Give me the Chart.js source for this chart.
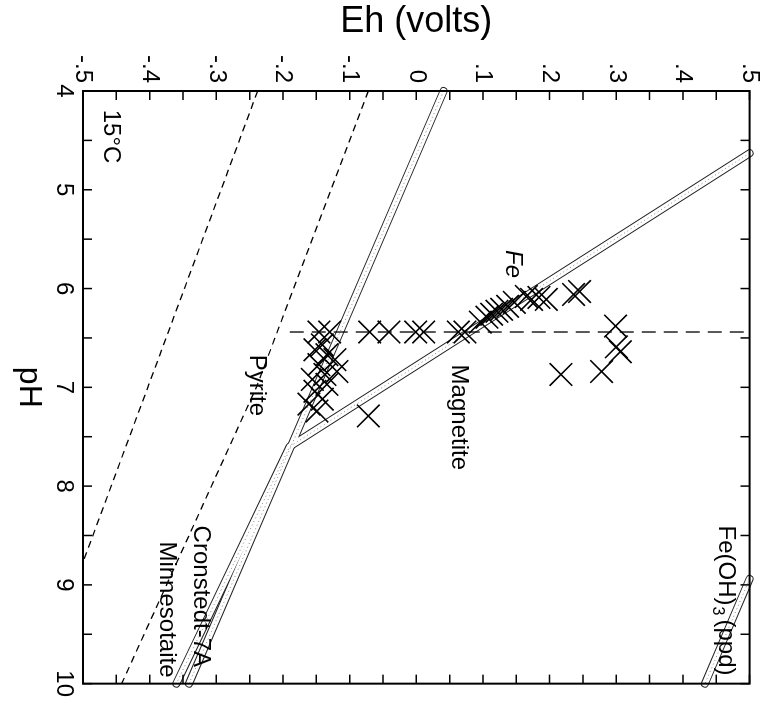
<!DOCTYPE html>
<html>
<head>
<meta charset="utf-8">
<script src="https://cdn.jsdelivr.net/npm/chart.js@4/dist/chart.umd.min.js"></script>
<style>
  body { margin: 0; background: #fff; overflow: hidden; }
  /* the plot is drawn upright, then turned a quarter clockwise like the printout */
  #wrap { position: absolute; left: 0; top: 0; width: 702px; height: 772px;
          transform-origin: 0 0; transform: translate(772px, 0) rotate(90deg); }
</style>
</head>
<body>
<div id="wrap"><canvas id="ehph" width="702" height="772"></canvas></div>
<script>
var phTicks = [4, 5, 6, 7, 8, 9, 10];
var ehTicks = [-0.5, -0.4, -0.3, -0.2, -0.1, 0, 0.1, 0.2, 0.3, 0.4, 0.5];
var ehLabels = ['-.5', '-.4', '-.3', '-.2', '-.1', '0', '.1', '.2', '.3', '.4', '.5'];

// dashed sulfur lines
var lowDashPh = [4, 8.77];
var lowDashEh = [-0.238, -0.5];
var pyritePh = [4, 7, 10];
var pyriteEh = [-0.072, -0.24, -0.442];
var vertDashPh = [6.44, 6.44];
var vertDashEh = [-0.19, 0.5];

// iron mineral boundaries (double lines)
var cronstedtPh = [4, 10];
var cronstedtEh = [0.041, -0.341];
var magnetitePh = [4.63, 7.6, 10];
var magnetiteEh = [0.5, -0.19, -0.36];
var fe3Ph = [8.94, 10];
var fe3Eh = [0.5, 0.433];

// well samples
var samplePh = [6.44, 6.44, 6.44, 6.44, 6.44, 6.44, 6.44, 6.44,
  6.57, 6.62, 6.67, 6.72, 6.77, 6.84, 6.87, 6.92, 6.97, 7.04, 7.12, 7.17, 7.24,
  7.29,
  6.34, 6.29, 6.26, 6.23, 6.21, 6.18, 6.14, 6.08, 6.11, 6.09, 6.11,
  6.06, 6.03, 6.38, 6.59, 6.64, 6.87, 6.84];
var sampleEh = [-0.146, -0.130, -0.070, -0.041, -0.001, 0.011, 0.063, 0.073,
  -0.141, -0.152, -0.134, -0.122, -0.146, -0.119, -0.137, -0.156, -0.134, -0.152, -0.141, -0.161, -0.149,
  -0.072,
  0.096, 0.106, 0.113, 0.121, 0.128, 0.137, 0.147, 0.165, 0.173, 0.184, 0.195,
  0.236, 0.245, 0.299, 0.300, 0.306, 0.217, 0.278];

var notes = [
  {text: 'Pyrite', ph: 6.67, eh: -0.239},
  {text: 'Magnetite', ph: 6.77, eh: 0.064},
  {text: 'Fe', ph: 5.61, eh: 0.144, italic: true},
  {text: 'Cronstedt-7A', ph: 8.40, eh: -0.324},
  {text: 'Minnesotaite', ph: 8.56, eh: -0.374},
  {text: '15°C', ph: 4.19, eh: -0.459}
];

var FONT = '"Liberation Sans", Arial, sans-serif';

function pts(xs, ys) {
  return xs.map(function(x, i) { return {x: x, y: ys[i]}; });
}

function dashed(xs, ys, dash) {
  return {data: pts(xs, ys), showLine: true, pointRadius: 0, borderColor: '#000',
          borderWidth: 1.3, borderDash: dash, order: 2};
}

function band(xs, ys) {
  var d = pts(xs, ys);
  return [
    {data: d, showLine: true, pointRadius: 0, borderColor: '#222', borderWidth: 8,
     borderCapStyle: 'round', borderJoinStyle: 'round', order: 5, clip: false},
    {data: d, showLine: true, pointRadius: 0, borderColor: '#fff', borderWidth: 6,
     borderCapStyle: 'round', borderJoinStyle: 'round', order: 4, clip: false},
    {data: d, showLine: true, pointRadius: 0, borderColor: '#888', borderWidth: 1,
     borderDash: [1, 3], order: 3}
  ];
}

var frame = {
  id: 'frame',
  afterDatasetsDraw: function(chart) {
    var c = chart.ctx, a = chart.chartArea, xs = chart.scales.x, ys = chart.scales.y;
    c.save();
    c.strokeStyle = '#000';
    c.lineWidth = 2;
    c.strokeRect(a.left, a.top, a.right - a.left, a.bottom - a.top);
    c.lineWidth = 1.5;
    c.beginPath();
    for (var p = 4; p <= 10.001; p += 0.5) {
      var px = xs.getPixelForValue(p);
      c.moveTo(px, a.bottom); c.lineTo(px, a.bottom - 9);
      c.moveTo(px, a.top); c.lineTo(px, a.top + 9);
    }
    for (var e = -0.5; e <= 0.501; e += 0.05) {
      var py = ys.getPixelForValue(e);
      c.moveTo(a.left, py); c.lineTo(a.left + 9, py);
      c.moveTo(a.right, py); c.lineTo(a.right - 9, py);
    }
    c.stroke();

    c.fillStyle = '#000';
    c.textBaseline = 'middle';
    c.textAlign = 'left';
    notes.forEach(function(n) {
      c.font = (n.italic ? 'italic ' : '') + '24px ' + FONT;
      c.fillText(n.text, xs.getPixelForValue(n.ph), ys.getPixelForValue(n.eh));
    });

    // Fe(OH)3 (ppd) with subscript
    var x0 = xs.getPixelForValue(8.40), y0 = ys.getPixelForValue(0.464);
    c.font = '24px ' + FONT;
    c.fillText('Fe(OH)', x0, y0);
    x0 += c.measureText('Fe(OH)').width;
    c.font = '16px ' + FONT;
    c.fillText('3', x0 + 1, y0 + 8);
    x0 += c.measureText('3').width + 5;
    c.font = '24px ' + FONT;
    c.fillText('(ppd)', x0, y0);
    c.restore();
  }
};

var datasets = [].concat(
  band(cronstedtPh, cronstedtEh),
  band(magnetitePh, magnetiteEh),
  band(fe3Ph, fe3Eh),
  [dashed(lowDashPh, lowDashEh, [7, 5]),
   dashed(pyritePh, pyriteEh, [7, 5]),
   dashed(vertDashPh, vertDashEh, [14, 8]),
   {data: pts(samplePh, sampleEh), pointStyle: 'crossRot', pointRadius: 16,
    pointBorderColor: '#000', pointBorderWidth: 1.6, pointBackgroundColor: '#000',
    showLine: false, order: 1}]
);

var ctx = document.getElementById('ehph');
var chart = new Chart(ctx, {
  type: 'scatter',
  data: {datasets: datasets},
  options: {
    responsive: false,
    animation: false,
    devicePixelRatio: 1,
    layout: {padding: {top: 14, right: 17, left: 0, bottom: 0}},
    plugins: {legend: {display: false}, tooltip: {enabled: false}},
    scales: {
      x: {
        type: 'linear', position: 'bottom', min: 4, max: 10,
        afterBuildTicks: function(s) { s.ticks = phTicks.map(function(v) { return {value: v}; }); },
        afterFit: function(s) { s.height = 83; },
        grid: {display: false, drawTicks: false},
        border: {display: false},
        ticks: {color: '#000', padding: 5, maxRotation: 0, font: {family: FONT, size: 24}},
        title: {display: true, text: 'pH', color: '#000', padding: {top: 0, bottom: 13},
                font: {family: FONT, size: 32, lineHeight: 1}}
      },
      y: {
        type: 'linear', position: 'left', min: -0.5, max: 0.5,
        afterBuildTicks: function(s) { s.ticks = ehTicks.map(function(v) { return {value: v}; }); },
        afterFit: function(s) { s.width = 91; },
        grid: {display: false, drawTicks: false},
        border: {display: false},
        ticks: {color: '#000', padding: 8, font: {family: FONT, size: 24},
                callback: function(v, i) { return ehLabels[i]; }},
        title: {display: true, text: 'Eh (volts)', color: '#000', padding: {top: 4, bottom: 0},
                font: {family: FONT, size: 36, lineHeight: 1}}
      }
    }
  },
  plugins: [frame]
});
</script>
</body>
</html>
